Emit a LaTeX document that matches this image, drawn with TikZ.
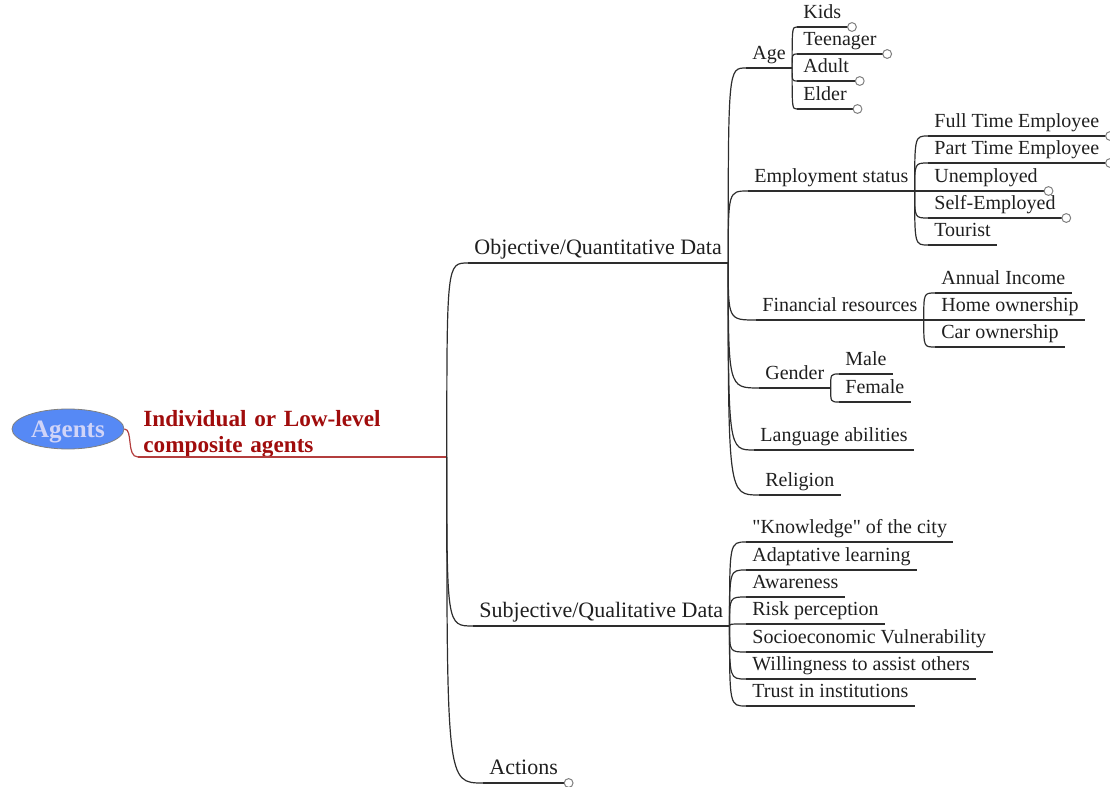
\documentclass[tikz,border=0pt]{standalone}
\usepackage{fontspec}
\setmainfont{Liberation Serif}
\usetikzlibrary{shapes.geometric}

\definecolor{agentblue}{RGB}{86,137,245}
\definecolor{agenttext}{RGB}{208,212,248}
\definecolor{darkred}{RGB}{160,12,12}
\definecolor{linegray}{RGB}{45,45,45}

\tikzset{
  topic/.style={anchor=south west, inner xsep=3pt, inner ysep=1.5pt, text depth=2.5pt,
    font=\fontsize{10}{12}\selectfont, text=black!88,
    append after command={(\tikzlastnode.south west) edge[draw=linegray, line width=0.6pt] (\tikzlastnode.south east)}},
  bigtopic/.style={topic, font=\fontsize{11}{13}\selectfont},
  conn/.style={draw=linegray, line width=0.6pt},
  knob/.style={draw=gray, fill=white, line width=0.5pt},
}

\begin{document}
\begin{tikzpicture}[x=0.5pt, y=-0.5pt]
\useasboundingbox (0,0) rectangle (1110,787);

% Central topic
\node[ellipse, fill=agentblue, draw=gray, inner sep=0pt, minimum width=56pt, minimum height=20pt, text depth=0pt,
  text=agenttext, font=\bfseries\fontsize{12.5}{14}\selectfont] (agents) at (68,429) {Agents};

% Main topic (red, two lines)
\node[anchor=south west, align=left, text width=149pt, inner xsep=2.5pt, inner ysep=0.8pt, text depth=14.4pt,
  text=darkred, font=\bfseries\fontsize{11.6}{13}\selectfont,
  append after command={(\tikzlastnode.south west) edge[draw=darkred!80, line width=0.6pt] (\tikzlastnode.south east)}]
  (ind) at (138,457) {Individual or Low-level\\composite agents};
\draw[darkred!80, line width=0.6pt] (agents.east) .. controls +(9,0) and +(-12,0) .. (ind.south west);

% First level
\node[bigtopic] (obj) at (468,263) {Objective/Quantitative Data};
\node[bigtopic] (subj) at (473,626) {Subjective/Qualitative Data};
\node[bigtopic] (act) at (483,783) {Actions};

% Objective data
\node[topic] (age) at (746,68) {Age};
\node[topic] (employ) at (748,191) {Employment status};
\node[topic] (finance) at (756,320) {Financial resources};
\node[topic] (gender) at (759,388) {Gender};
\node[topic] (lang) at (754,450) {Language abilities};
\node[topic] (religion) at (759,495) {Religion};

% Age groups
\node[topic] (kids) at (797,27) {Kids};
\node[topic] (teen) at (797,54) {Teenager};
\node[topic] (adult) at (797,81) {Adult};
\node[topic] (elder) at (797,109) {Elder};

% Employment
\node[topic] (fulltime) at (928,136) {Full Time Employee};
\node[topic] (parttime) at (928,163) {Part Time Employee};
\node[topic] (unemp) at (928,191) {Unemployed};
\node[topic] (selfemp) at (928,218) {Self-Employed};
\node[topic] (tourist) at (928,245) {Tourist};

% Financial resources
\node[topic] (income) at (935,293) {Annual Income};
\node[topic] (home) at (935,320) {Home ownership};
\node[topic] (car) at (935,347) {Car ownership};

% Gender
\node[topic] (male) at (839,374) {Male};
\node[topic] (female) at (839,402) {Female};

% Subjective data
\node[topic] (know) at (746,542) {\textquotedbl Knowledge\textquotedbl{} of the city};
\node[topic] (adapt) at (746,570) {Adaptative learning};
\node[topic] (aware) at (746,597) {Awareness};
\node[topic] (risk) at (746,624) {Risk perception};
\node[topic] (socio) at (746,652) {Socioeconomic Vulnerability};
\node[topic] (willing) at (746,679) {Willingness to assist others};
\node[topic] (trust) at (746,706) {Trust in institutions};

% Connectors
\foreach \p/\c in {ind/obj, ind/subj, ind/act,
    obj/age, obj/employ, obj/finance, obj/gender, obj/lang, obj/religion,
    age/kids, age/teen, age/adult, age/elder,
    employ/fulltime, employ/parttime, employ/unemp, employ/selfemp, employ/tourist,
    finance/income, finance/home, finance/car,
    gender/male, gender/female,
    subj/know, subj/adapt, subj/aware, subj/risk, subj/socio, subj/willing, subj/trust}
  \draw[conn] (\p.south east) .. controls (\p.south east |- \c.south west) .. (\c.south west);

% Collapsed-branch knobs
\foreach \n in {act, kids, teen, adult, elder, fulltime, parttime, unemp, selfemp}
  \draw[knob] ([xshift=2.2pt]\n.south east) circle (2.2pt);

\end{tikzpicture}
\end{document}
